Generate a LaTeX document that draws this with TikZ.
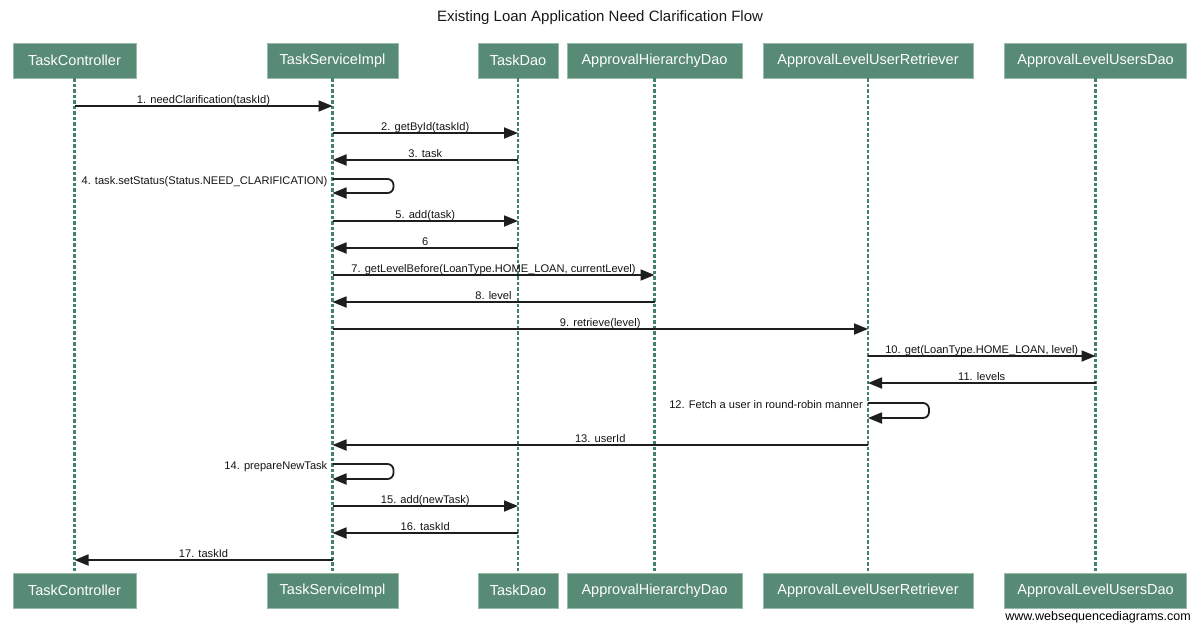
\documentclass[tikz,border=0pt]{standalone}
\usepackage{fontspec}
\setmainfont{Liberation Sans}
\usetikzlibrary{arrows.meta,calc}
\definecolor{boxfill}{RGB}{88,139,117}
\definecolor{boxborder}{RGB}{150,185,168}
\definecolor{lifecol}{RGB}{66,130,108}
\definecolor{msgcol}{RGB}{30,30,30}
\tikzset{
  actor/.style={draw=boxborder, fill=boxfill, line width=0.8pt, minimum height=35pt, inner sep=0pt,
    text=white, font=\fontsize{14.5}{17}\selectfont},
  life/.style={draw=lifecol, line width=2.3pt, dash pattern=on 3.5pt off 2pt},
  msg/.style={draw=msgcol, line width=1.8pt, -{Triangle[length=14pt,width=11pt]}},
  lbl/.style={font=\fontsize{11.1}{13}\selectfont, text={rgb,255:red,20;green,20;blue,20}, inner sep=0pt},
}
\newcommand\seqmsg[4]{%
  \coordinate (my) at (0,#3);
  \draw[msg] (#1 |- my) -- node[lbl, midway, anchor=base, yshift=3pt] {#4} (#2 |- my);
}
\newcommand\selfmsg[4]{%
  \coordinate (mya) at (0,#2);
  \coordinate (myb) at (0,#3);
  \draw[msg, rounded corners=6pt] (#1 |- mya) -- ++(61,0) -- ++(0,#3-#2) -- (#1 |- myb);
  \node[lbl, anchor=base east, xshift=-5pt, yshift=-5pt] at (#1 |- mya) {#4};
}
\begin{document}
\begin{tikzpicture}[x=1pt, y=-1pt]
\useasboundingbox (0,0) rectangle (1200,630);
\fill[white] (0,0) rectangle (1200,630);
\node[font=\fontsize{15}{18}\selectfont, text={rgb,255:red,25;green,25;blue,25}] (title) at (600,18) {Existing Loan Application Need Clarification Flow};
% top actors
\node[actor, minimum width=123pt] (tc) at (74.5,60.5) {TaskController};
\node[actor, minimum width=131pt] (ts) at (332.5,60.5) {TaskServiceImpl};
\node[actor, minimum width=80pt] (td) at (518,60.5) {TaskDao};
\node[actor, minimum width=175pt] (ah) at (654.5,60.5) {ApprovalHierarchyDao};
\node[actor, minimum width=210pt] (ar) at (868,60.5) {ApprovalLevelUserRetriever};
\node[actor, minimum width=182pt] (au) at (1095.5,60.5) {ApprovalLevelUsersDao};
% bottom actors
\node[actor, minimum width=123pt] (tcb) at (74.5,590.5) {TaskController};
\node[actor, minimum width=131pt] (tsb) at (332.5,590.5) {TaskServiceImpl};
\node[actor, minimum width=80pt] (tdb) at (518,590.5) {TaskDao};
\node[actor, minimum width=175pt] (ahb) at (654.5,590.5) {ApprovalHierarchyDao};
\node[actor, minimum width=210pt] (arb) at (868,590.5) {ApprovalLevelUserRetriever};
\node[actor, minimum width=182pt] (aub) at (1095.5,590.5) {ApprovalLevelUsersDao};
% lifelines
\draw[life] (tc.south) -- (tcb.north);
\draw[life] (ts.south) -- (tsb.north);
\draw[life] (td.south) -- (tdb.north);
\draw[life] (ah.south) -- (ahb.north);
\draw[life] (ar.south) -- (arb.north);
\draw[life] (au.south) -- (aub.north);
% messages
\seqmsg{tc}{ts}{106}{1. needClarification(taskId)}
\seqmsg{ts}{td}{133}{2. getById(taskId)}
\seqmsg{td}{ts}{160}{3. task}
\selfmsg{ts}{179}{193}{4. task.setStatus(Status.NEED\_CLARIFICATION)}
\seqmsg{ts}{td}{221}{5. add(task)}
\seqmsg{td}{ts}{248}{6}
\seqmsg{ts}{ah}{275}{7. getLevelBefore(LoanType.HOME\_LOAN, currentLevel)}
\seqmsg{ah}{ts}{302}{8. level}
\seqmsg{ts}{ar}{329}{9. retrieve(level)}
\seqmsg{ar}{au}{356}{10. get(LoanType.HOME\_LOAN, level)}
\seqmsg{au}{ar}{383}{11. levels}
\selfmsg{ar}{403}{418}{12. Fetch a user in round-robin manner}
\seqmsg{ar}{ts}{445}{13. userId}
\selfmsg{ts}{464}{479}{14. prepareNewTask}
\seqmsg{ts}{td}{506}{15. add(newTask)}
\seqmsg{td}{ts}{533}{16. taskId}
\seqmsg{ts}{tc}{560}{17. taskId}
% footer
\node[font=\fontsize{12.5}{15}\selectfont, anchor=east, inner sep=0pt] (footer) at (1191,617) {www.websequencediagrams.com};
\end{tikzpicture}
\end{document}
